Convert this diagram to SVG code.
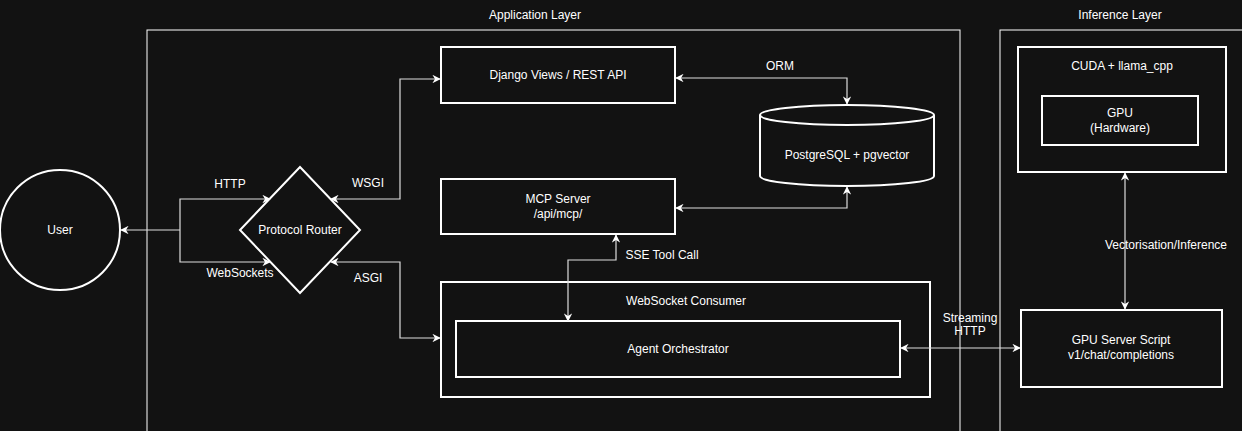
<svg xmlns="http://www.w3.org/2000/svg" width="1242" height="431" viewBox="0 0 1242 431">
<defs>
<marker id="a" viewBox="0 0 10 10" refX="9" refY="5" markerWidth="7" markerHeight="7" orient="auto-start-reverse"><path d="M0,0 L10,5 L0,10 L3,5 Z" fill="#fff"/></marker>
<style>
.b{fill:none;stroke:#fff;stroke-width:2}
.t{font-family:"Liberation Sans",Arial,sans-serif;font-size:12px;fill:#fff;text-anchor:middle}
.c{fill:none;stroke:#ddd;stroke-width:1.2}
</style>
</defs>
<rect width="1242" height="431" fill="#121212"/>
<g id="app-layer"><rect x="147" y="30" width="813" height="410" fill="none" stroke="#fff" stroke-width="1"/><text class="t" x="535" y="19">Application Layer</text></g>
<g id="inference-layer"><rect x="1000" y="30" width="250" height="410" fill="none" stroke="#fff" stroke-width="1"/><text class="t" x="1120" y="19">Inference Layer</text></g>
<g id="user"><circle class="b" cx="60" cy="230" r="60"/><text class="t" x="60" y="234">User</text></g>
<g id="router"><path class="b" d="M300,167 L360,230 L300,293 L240,230 Z"/><text class="t" x="300" y="234">Protocol Router</text></g>
<g id="django"><rect class="b" x="441" y="47" width="234" height="56"/><text class="t" x="558" y="79">Django Views / REST API</text></g>
<g id="mcp"><rect class="b" x="441" y="179" width="234" height="55"/><text class="t" x="558" y="203">MCP Server</text><text class="t" x="558" y="218">/api/mcp/</text></g>
<g id="db"><path class="b" d="M760,115 L760,176 A87,10 0 0 0 934,176 L934,115"/><ellipse class="b" cx="847" cy="115" rx="87" ry="10"/><text class="t" x="847" y="159">PostgreSQL + pgvector</text></g>
<g id="consumer"><rect class="b" x="441" y="282" width="489" height="115"/><text class="t" x="686" y="305">WebSocket Consumer</text></g>
<g id="agent"><rect class="b" x="456" y="321" width="444" height="56"/><text class="t" x="678" y="353">Agent Orchestrator</text></g>
<g id="cuda"><rect class="b" x="1018" y="47" width="208" height="125"/><text class="t" x="1122" y="70">CUDA + llama_cpp</text></g>
<g id="gpu"><rect class="b" x="1042" y="96" width="156" height="49"/><text class="t" x="1120" y="117">GPU</text><text class="t" x="1120" y="132">(Hardware)</text></g>
<g id="gpuserver"><rect class="b" x="1021" y="310" width="201" height="77"/><text class="t" x="1121" y="344">GPU Server Script</text><text class="t" x="1121" y="359">v1/chat/completions</text></g>
<g id="connectors">
<path class="c" d="M180,230 L121,230" marker-end="url(#a)"/>
<path class="c" d="M180,230 L180,199 L270,199" marker-end="url(#a)"/>
<path class="c" d="M180,230 L180,262 L270,262" marker-end="url(#a)"/>
<path class="c" d="M331,199 L400,199 L400,79 L440,79" marker-start="url(#a)" marker-end="url(#a)"/>
<path class="c" d="M331,262 L400,262 L400,338 L440,338" marker-start="url(#a)" marker-end="url(#a)"/>
<path class="c" d="M676,78 L847,78 L847,104" marker-start="url(#a)" marker-end="url(#a)"/>
<path class="c" d="M676,208 L847,208 L847,187" marker-start="url(#a)" marker-end="url(#a)"/>
<path class="c" d="M616,235 L616,260 L568,260 L568,321" marker-start="url(#a)" marker-end="url(#a)"/>
<path class="c" d="M901,348 L1020,348" marker-start="url(#a)" marker-end="url(#a)"/>
<path class="c" d="M1125,173 L1125,309" marker-start="url(#a)" marker-end="url(#a)"/>
<text class="t" x="230" y="188">HTTP</text>
<text class="t" x="240" y="277">WebSockets</text>
<text class="t" x="368" y="187">WSGI</text>
<text class="t" x="368" y="282">ASGI</text>
<text class="t" x="780" y="70">ORM</text>
<text class="t" x="662" y="259">SSE Tool Call</text>
<text class="t" x="970" y="322">Streaming</text>
<text class="t" x="970" y="335">HTTP</text>
<text class="t" x="1166" y="249">Vectorisation/Inference</text>
</g>
</svg>
